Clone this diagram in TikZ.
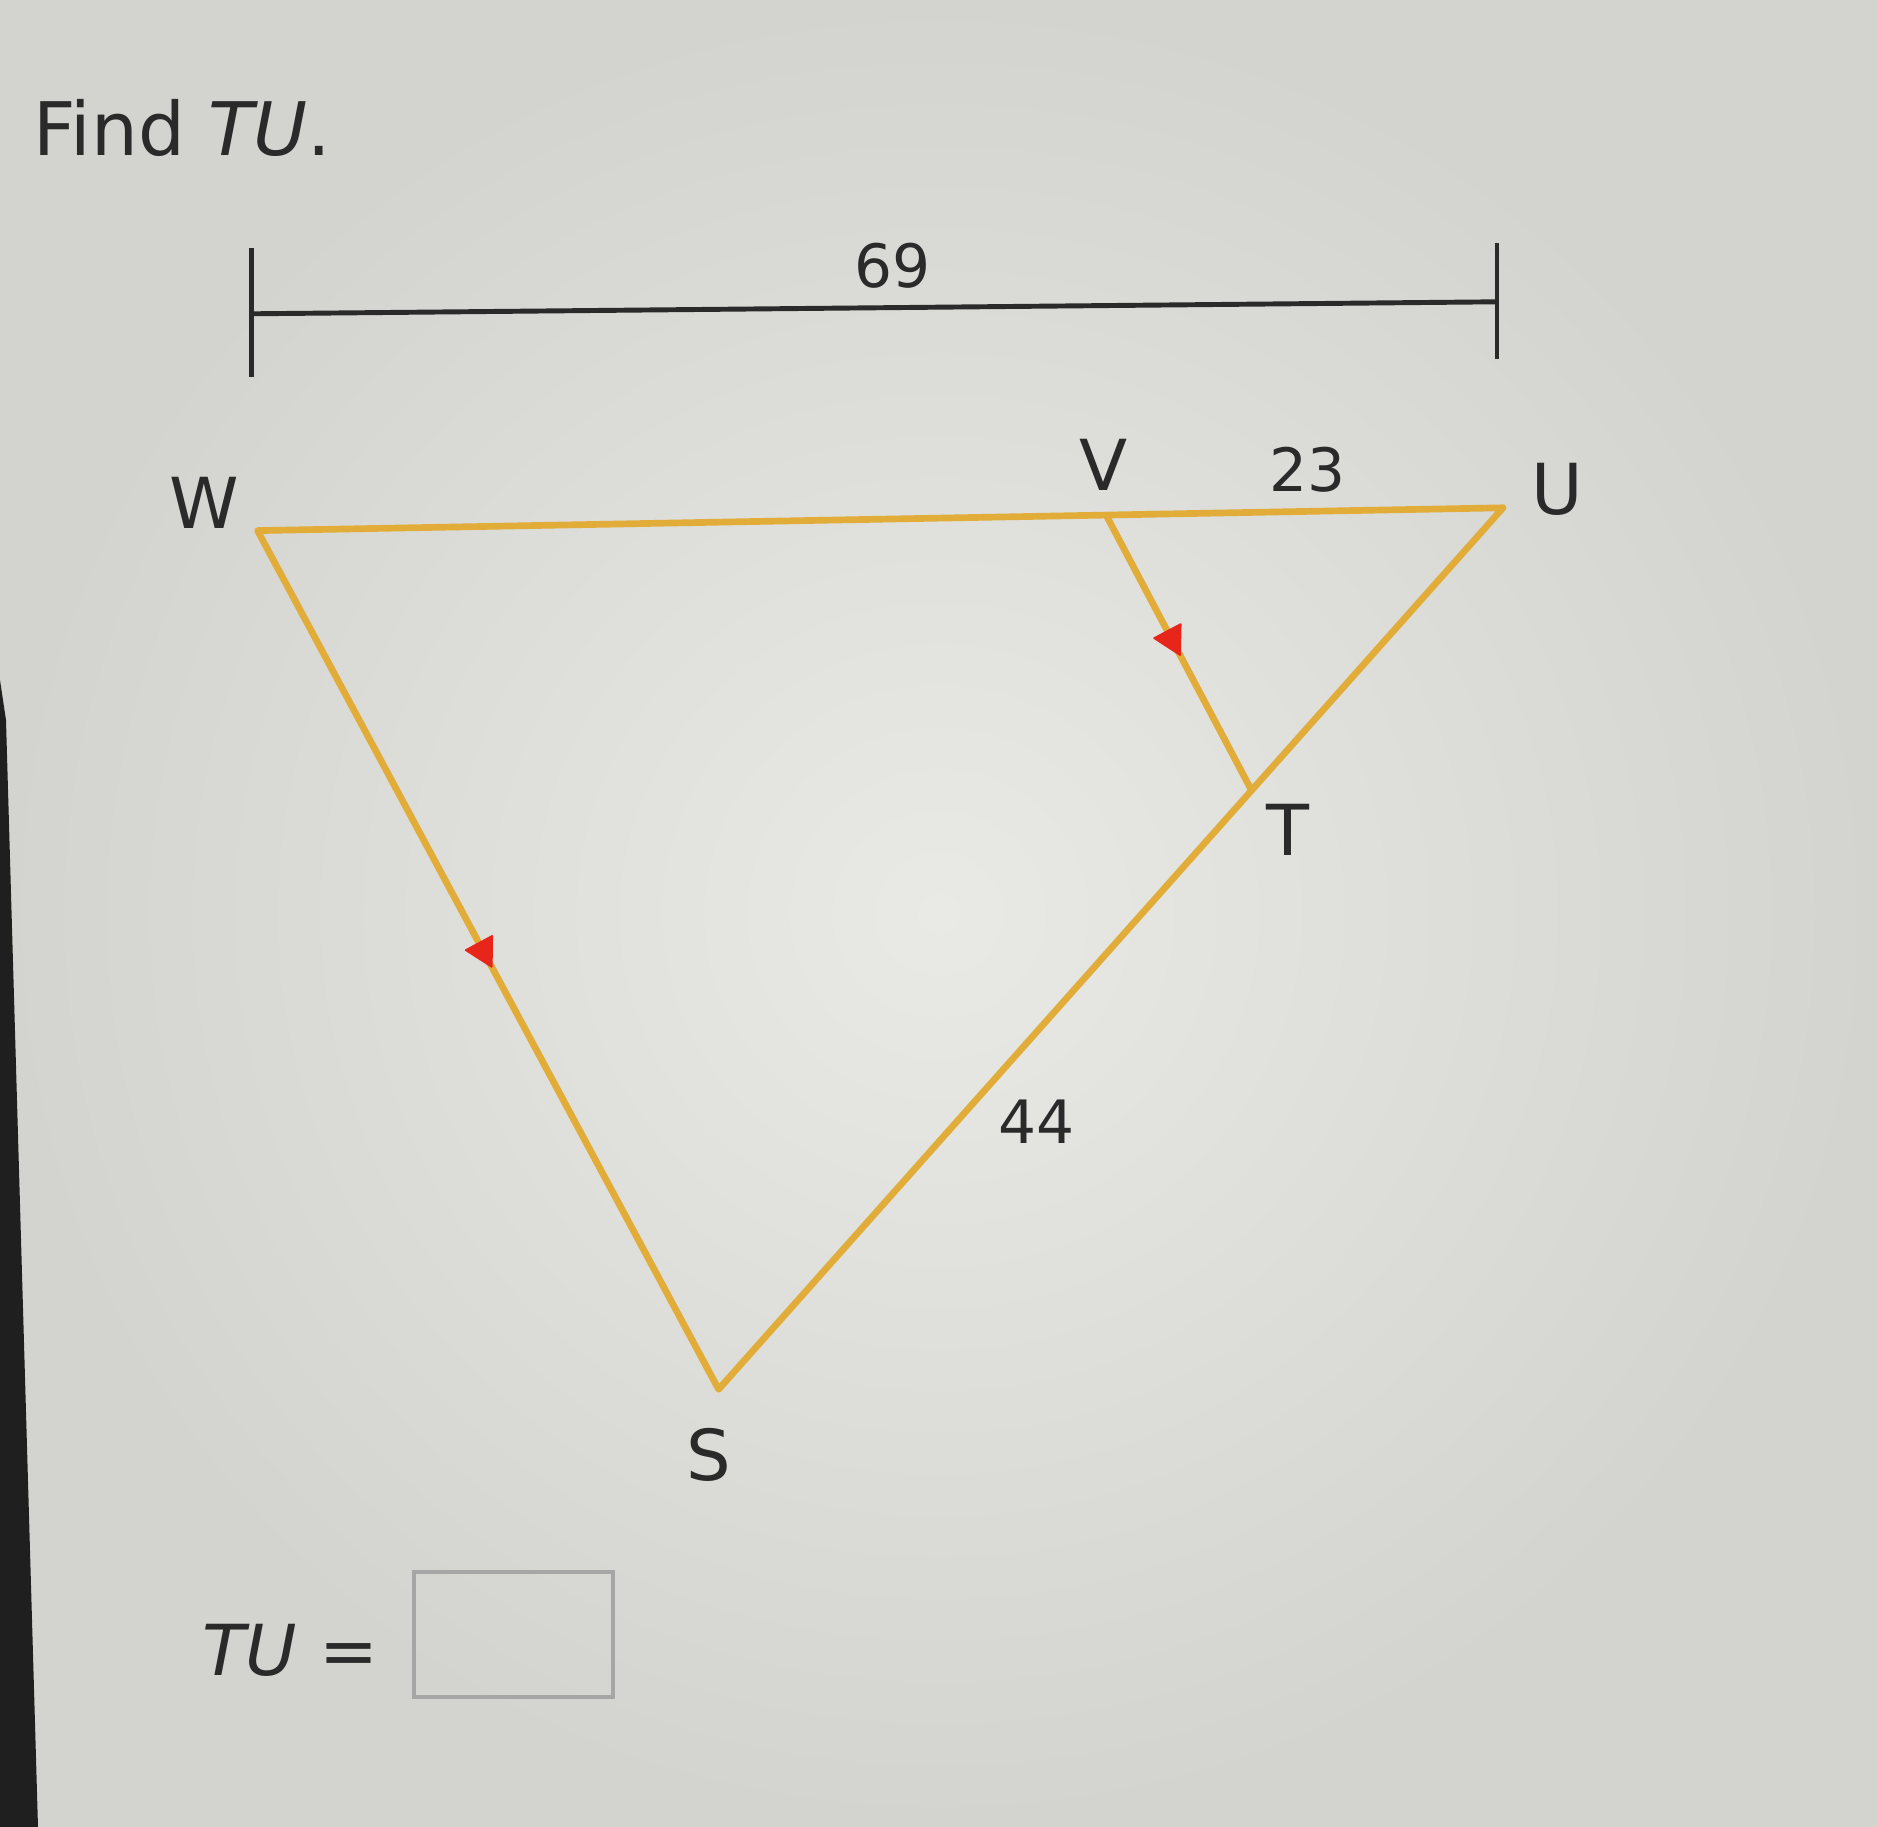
\documentclass[tikz,border=0pt]{standalone}
\usepackage{fontspec}
\setmainfont{DejaVu Sans}
\usetikzlibrary{calc}
\definecolor{bgdark}{HTML}{D3D3CF}
\definecolor{bglight}{HTML}{E9E9E5}
\definecolor{edgecol}{HTML}{E2AC38}
\definecolor{tipcol}{HTML}{E8251B}
\definecolor{ink}{HTML}{2A2A2A}
\begin{document}
\begin{tikzpicture}[x=0.01cm,y=0.01cm,
  side/.style={draw=edgecol, line width=1.9pt, line join=round, line cap=round},
  lbl/.style={text=ink, font=\fontsize{20}{24}\selectfont, inner sep=0pt},
  num/.style={text=ink, font=\fontsize{17}{20}\selectfont, inner sep=0pt},
  dimline/.style={draw=ink, line width=1.4pt},
  redtip/.style={fill=tipcol, draw=tipcol, line width=0.5pt, line join=round}
]
% background
\useasboundingbox (0,0) rectangle (1878,-1827);
\shade[inner color=bglight, outer color=bgdark] (0,0) rectangle (1878,-1827);
\fill[black!88] (0,-680) -- (6,-720) -- (38,-1827) -- (0,-1827) -- cycle;

% title
\node[anchor=base west, text=ink, font=\fontsize{21}{25}\selectfont, inner sep=0pt] (title) at (33,-156) {Find \textit{TU}.};

% dimension line
\coordinate (dL) at (251.5,-313.8);
\coordinate (dR) at (1497,-301.8);
\coordinate (dLt) at (251.5,-248);
\coordinate (dLb) at (251.5,-377);
\coordinate (dRt) at (1497,-243);
\coordinate (dRb) at (1497,-359);
\draw[dimline] (dL) -- (dR);
\draw[dimline] (dLt) -- (dLb);
\draw[dimline] (dRt) -- (dRb);
\node[num] (n69) at (893,-266) {69};

% vertices
\coordinate (W) at (257.5,-530.6);
\coordinate (U) at (1503,-507.8);
\coordinate (V) at (1106.7,-516.2);
\coordinate (T) at (1251.6,-790.5);
\coordinate (S) at (718.6,-1389.3);

\draw[side] (W) -- (U) -- (S) -- cycle;
\draw[side] (V) -- (T);

% red arrowheads (tip pointing along W->S and V->T)
\coordinate (tipA) at ($(W)!0.508!(S)$);
\coordinate (baseA) at ($(tipA)!0.27cm!(W)$);
\fill[redtip] (tipA) -- ($(baseA)!0.15cm!90:(tipA)$) -- ($(baseA)!0.15cm!-90:(tipA)$) -- cycle;
\coordinate (tipB) at ($(V)!0.506!(T)$);
\coordinate (baseB) at ($(tipB)!0.27cm!(V)$);
\fill[redtip] (tipB) -- ($(baseB)!0.15cm!90:(tipB)$) -- ($(baseB)!0.15cm!-90:(tipB)$) -- cycle;

% labels
\node[lbl] (lW) at (204,-503) {W};
\node[lbl] (lV) at (1104,-465) {V};
\node[lbl] (lU) at (1557,-489) {U};
\node[lbl] (lT) at (1288,-830) {T};
\node[lbl] (lS) at (709,-1455) {S};
\node[num] (n23) at (1308,-470) {23};
\node[num] (n44) at (1037,-1122) {44};

% answer
\node[anchor=base west, text=ink, font=\fontsize{20}{24}\selectfont, inner sep=0pt] (ans) at (202,-1675) {\textit{TU} =};
\draw[draw=gray!70, line width=1pt] (414,-1572) rectangle (613,-1697);
\end{tikzpicture}
\end{document}
